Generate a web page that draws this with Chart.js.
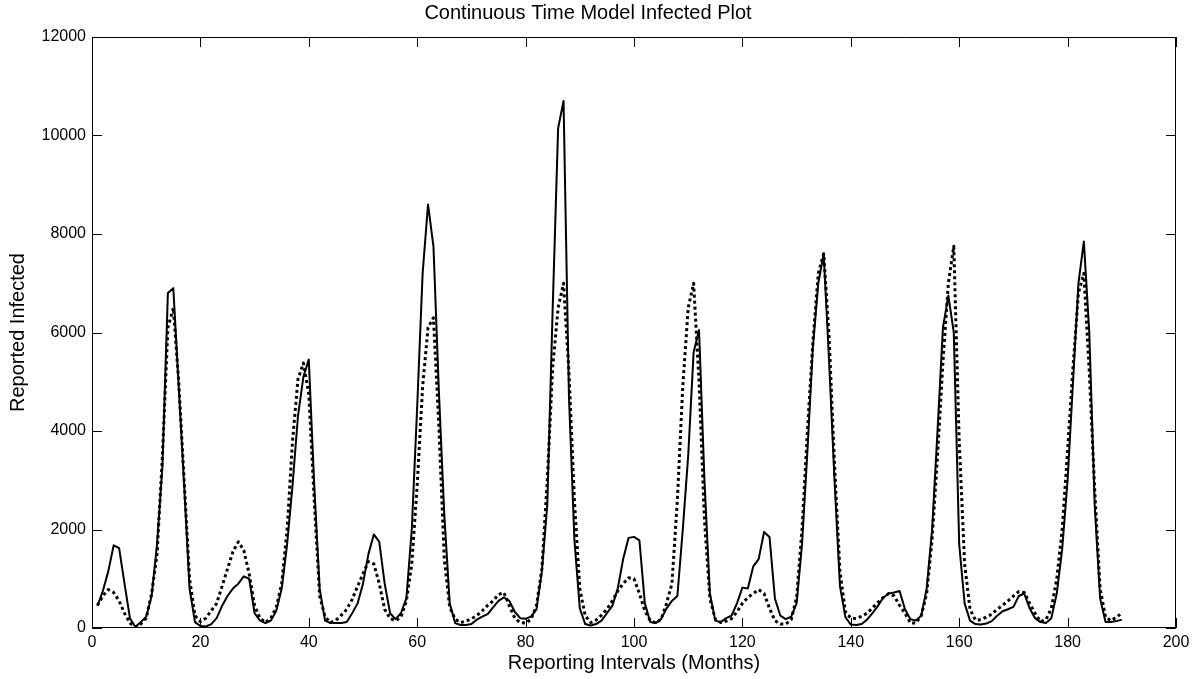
<!DOCTYPE html>
<html>
<head>
<meta charset="utf-8">
<script src="https://cdn.jsdelivr.net/npm/chart.js@4/dist/chart.umd.min.js"></script>
<style>
body{margin:0;background:#fff;}
#wrap{width:1198px;height:679px;}
</style>
</head>
<body>
<div id="wrap"><canvas id="infChart"></canvas></div>
<script>
// reported cases per month (solid) and model output (dotted), months 1..190
const reported = [
450,750,1150,1680,1620,900,200,20,120,230,
650,1700,3300,6800,6900,4900,2900,800,120,40,
30,80,200,450,650,800,900,1050,1000,300,
150,100,150,350,800,1700,2900,4300,5100,5450,
2900,800,150,100,100,100,120,300,500,900,
1500,1900,1750,900,300,180,300,600,2000,4500,
7200,8600,7750,4800,2300,500,100,60,60,80,
170,230,280,420,550,620,550,330,200,190,
230,380,1150,2500,6500,10150,10700,4700,1800,400,
80,50,80,150,300,450,800,1400,1830,1850,
1780,500,120,100,180,400,550,650,2000,3500,
5600,6050,3000,700,150,120,200,250,500,820,
800,1250,1400,1950,1850,600,250,180,230,500,
1700,3600,5700,7000,7600,5400,3000,850,220,70,
60,80,170,300,450,620,700,720,750,380,
180,150,250,800,2000,4000,6100,6750,6000,1700,
500,150,80,70,90,140,250,340,380,430,
650,700,400,200,120,100,200,700,1600,3000,
5000,7000,7850,6000,2500,600,120,120,140,170
];
const model = [
460,650,780,720,550,300,100,20,80,200,
700,1500,3500,6100,6500,5000,3000,1000,250,130,
200,350,500,850,1200,1550,1750,1580,1100,450,
200,110,200,420,900,2000,3800,5050,5380,4750,
2600,650,230,110,160,260,380,580,850,1100,
1350,1300,900,380,190,150,220,550,1300,2900,
4900,6100,6300,4100,1400,420,180,110,140,190,
250,350,460,550,680,720,450,200,110,100,
180,450,1200,3000,5300,6500,7000,5200,2600,800,
250,110,160,260,380,550,750,900,1020,1000,
700,350,150,100,180,500,900,2600,4900,6500,
7000,5000,2200,600,180,110,140,190,330,500,
620,700,780,700,400,150,80,80,170,620,
2000,4000,5800,7200,7600,5900,3300,1150,330,200,
190,240,300,410,520,620,700,650,460,300,
100,100,250,700,1800,3500,5400,7000,7750,3800,
1300,380,160,170,220,280,380,460,550,650,
740,720,500,300,130,170,400,1000,2000,3600,
5300,6800,7200,5200,2800,800,220,150,220,300
];
const xTicks = [0,20,40,60,80,100,120,140,160,180,200];
const yTicks = [0,2000,4000,6000,8000,10000,12000];

const months = reported.map((v, i) => i + 1);
const toPts = arr => arr.map((v, i) => ({x: months[i], y: v}));

const FONT = '"Liberation Sans", Arial, Helvetica, sans-serif';

// matlab style box with inward ticks on all four sides
const boxTicks = {
  id: 'boxTicks',
  afterDraw(chart) {
    const {ctx, chartArea: a, scales} = chart;
    const len = 10;
    ctx.save();
    ctx.strokeStyle = '#000';
    ctx.lineWidth = 1;
    ctx.beginPath();
    ctx.rect(a.left + 0.5, a.top + 0.5, a.right - a.left - 1, a.bottom - a.top - 1);
    xTicks.forEach(t => {
      const px = Math.round(scales.x.getPixelForValue(t)) + 0.5;
      ctx.moveTo(px, a.bottom); ctx.lineTo(px, a.bottom - len);
      ctx.moveTo(px, a.top); ctx.lineTo(px, a.top + len);
    });
    yTicks.forEach(t => {
      const py = Math.round(scales.y.getPixelForValue(t)) + 0.5;
      ctx.moveTo(a.left, py); ctx.lineTo(a.left + len, py);
      ctx.moveTo(a.right, py); ctx.lineTo(a.right - len, py);
    });
    ctx.stroke();
    ctx.restore();
  }
};

new Chart(document.getElementById('infChart'), {
  type: 'line',
  data: {
    datasets: [{
      label: 'Model',
      data: toPts(model),
      borderColor: '#000',
      borderWidth: 3,
      borderDash: [3, 3],
      borderCapStyle: 'butt',
      borderJoinStyle: 'round',
      pointRadius: 0,
      tension: 0,
      fill: false
    }, {
      label: 'Reported',
      data: toPts(reported),
      borderColor: '#000',
      borderWidth: 2,
      borderJoinStyle: 'round',
      pointRadius: 0,
      tension: 0,
      fill: false
    }]
  },
  options: {
    responsive: true,
    maintainAspectRatio: false,
    animation: false,
    layout: {padding: {left: 0, right: 22, top: 0, bottom: 0}},
    plugins: {
      legend: {display: false},
      tooltip: {enabled: false},
      title: {
        display: true,
        text: 'Continuous Time Model Infected Plot',
        color: '#000',
        font: {family: FONT, size: 20, weight: 'normal'},
        padding: {top: 1, bottom: 12}
      }
    },
    scales: {
      x: {
        type: 'linear',
        min: 0, max: 200,
        afterFit: s => { s.height = 51; },
        afterBuildTicks: s => { s.ticks = xTicks.map(v => ({value: v})); },
        grid: {display: false, drawTicks: false},
        border: {display: false},
        ticks: {color: '#000', padding: 5, maxRotation: 0, font: {family: FONT, size: 16},
          callback: v => String(v)},
        title: {
          display: true,
          text: 'Reporting Intervals (Months)',
          color: '#000',
          font: {family: FONT, size: 20},
          padding: {top: 0, bottom: 4}
        }
      },
      y: {
        min: 0, max: 12000,
        afterFit: s => { s.width = 92; },
        afterBuildTicks: s => { s.ticks = yTicks.map(v => ({value: v})); },
        grid: {display: false, drawTicks: false},
        border: {display: false},
        ticks: {color: '#000', padding: 6, font: {family: FONT, size: 16},
          callback: v => String(v)},
        title: {
          display: true,
          text: 'Reported Infected',
          color: '#000',
          font: {family: FONT, size: 20},
          padding: {top: 6, bottom: 0}
        }
      }
    }
  },
  plugins: [boxTicks]
});
</script>
</body>
</html>
